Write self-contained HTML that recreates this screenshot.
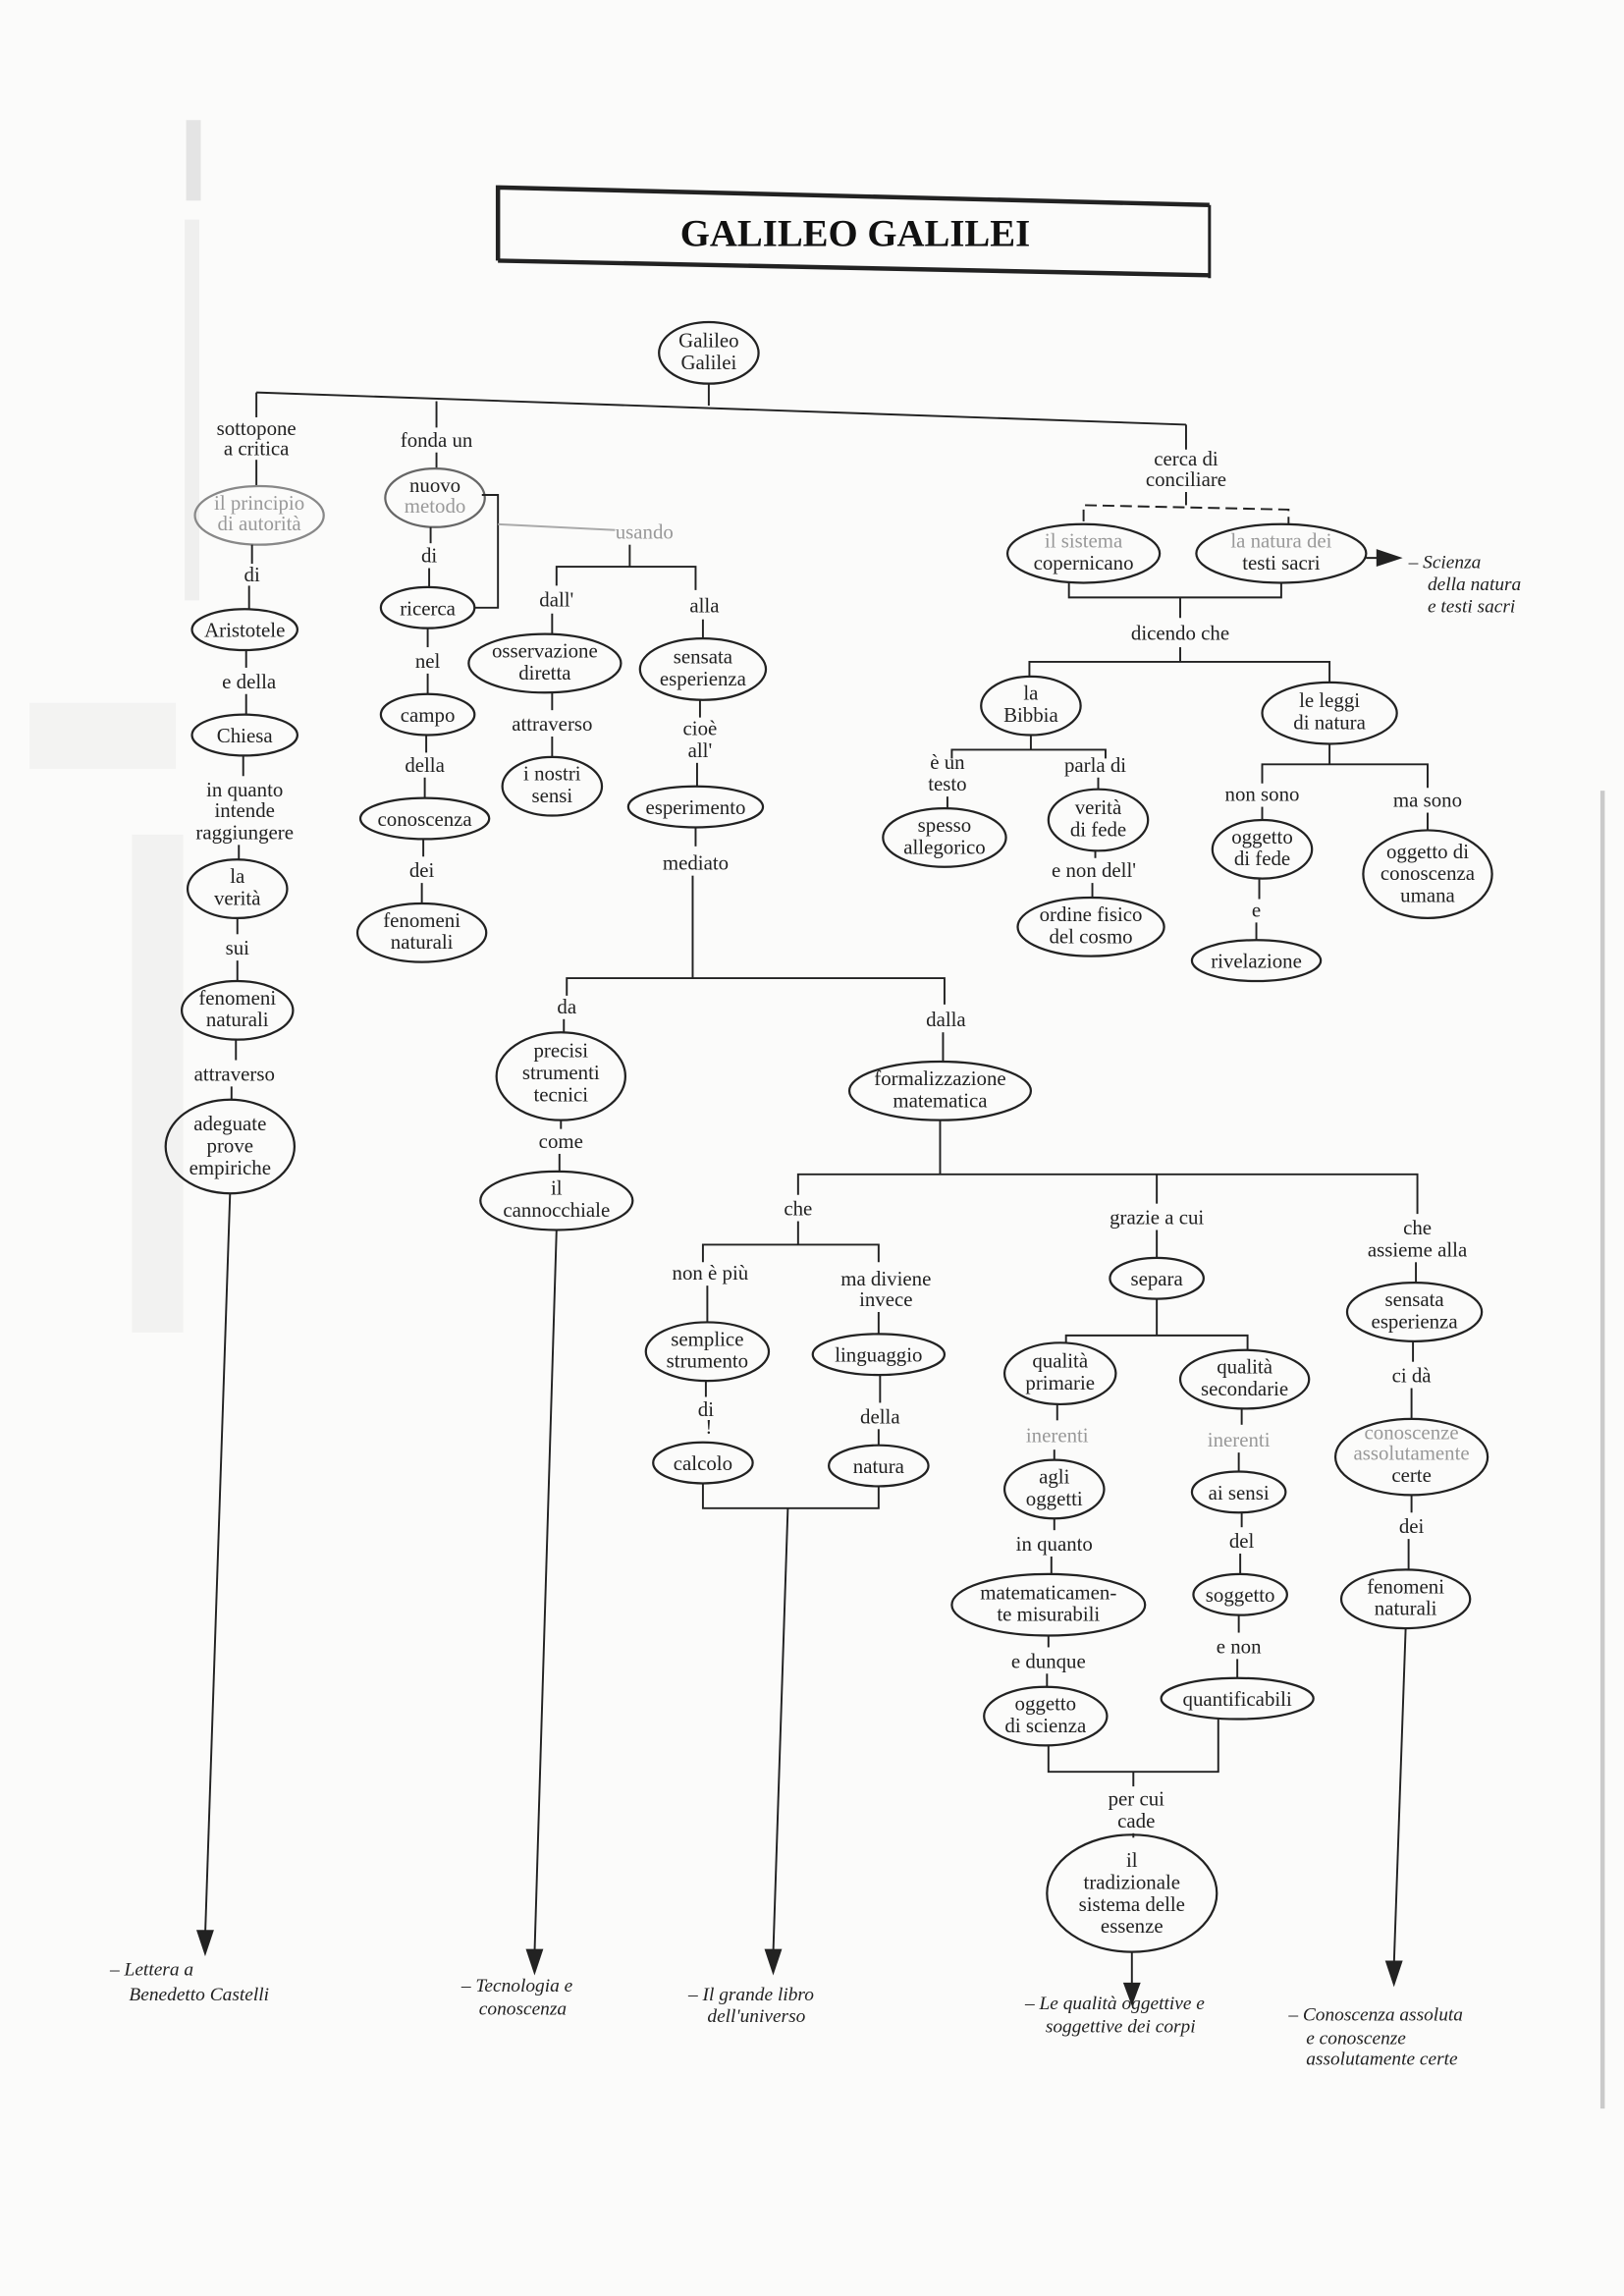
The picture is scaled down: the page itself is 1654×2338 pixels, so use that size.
<!DOCTYPE html>
<html><head><meta charset="utf-8"><style>
html,body{margin:0;padding:0;background:#fbfbfa;}
svg{display:block}
text{font-family:"Liberation Serif",serif;font-size:14px;fill:#222;text-anchor:middle}
.i{font-style:italic;text-anchor:start;font-size:13px}
.f{fill:#999}
ellipse{fill:none;stroke:#222;stroke-width:1.5}
line,polyline{stroke:#222;stroke-width:1.3;fill:none}
</style></head><body>
<svg width="1654" height="2338" viewBox="0 0 1109 1568" xmlns="http://www.w3.org/2000/svg">
<!-- scan noise -->
<rect x="127" y="82" width="10" height="55" fill="#bbb" opacity="0.35"/>
<rect x="126" y="150" width="10" height="260" fill="#ccc" opacity="0.25"/>
<rect x="20" y="480" width="100" height="45" fill="#ddd" opacity="0.25"/>
<rect x="90" y="570" width="35" height="340" fill="#ddd" opacity="0.3"/>
<rect x="1093" y="540" width="3" height="900" fill="#aaa" opacity="0.6"/>
<!-- title -->
<polyline points="340,178 340,128 826,140" style="stroke-width:3"/>
<line x1="340" y1="178" x2="826" y2="188" style="stroke-width:3"/>
<line x1="826" y1="140" x2="826" y2="190" style="stroke-width:2"/>
<text x="584" y="168" style="font-size:26px;font-weight:bold;fill:#111">GALILEO GALILEI</text>
<!-- root -->
<ellipse cx="484" cy="241" rx="34" ry="21"/>
<text x="484" y="237">Galileo</text><text x="484" y="252">Galilei</text>
<line x1="484" y1="262" x2="484" y2="277"/>
<line x1="175" y1="268" x2="810" y2="290"/>
<line x1="175" y1="268" x2="175" y2="285"/>
<line x1="298" y1="274" x2="298" y2="292"/>
<line x1="810" y1="290" x2="810" y2="307"/>
<!-- branch 1 -->
<text x="175" y="297">sottopone</text><text x="175" y="311">a critica</text>
<line x1="175" y1="314" x2="175" y2="332"/>
<ellipse cx="177" cy="352" rx="44" ry="20" style="stroke:#888"/>
<text x="177" y="348" class="f">il principio</text><text x="177" y="362" class="f">di autorità</text>
<line x1="172" y1="372" x2="172" y2="385"/>
<text x="172" y="397">di</text>
<line x1="170" y1="400" x2="170" y2="416"/>
<ellipse cx="167" cy="430" rx="36" ry="14"/><text x="167" y="435">Aristotele</text>
<line x1="168" y1="444" x2="168" y2="456"/>
<text x="170" y="470">e della</text>
<line x1="168" y1="474" x2="168" y2="488"/>
<ellipse cx="167" cy="502" rx="36" ry="14"/><text x="167" y="507">Chiesa</text>
<line x1="166" y1="516" x2="166" y2="530"/>
<text x="167" y="544">in quanto</text><text x="167" y="558">intende</text><text x="167" y="573">raggiungere</text>
<line x1="163" y1="577" x2="163" y2="587"/>
<ellipse cx="162" cy="607" rx="34" ry="20"/><text x="162" y="603">la</text><text x="162" y="618">verità</text>
<line x1="162" y1="627" x2="162" y2="638"/>
<text x="162" y="652">sui</text>
<line x1="162" y1="656" x2="162" y2="670"/>
<ellipse cx="162" cy="690" rx="38" ry="20"/><text x="162" y="686">fenomeni</text><text x="162" y="701">naturali</text>
<line x1="161" y1="710" x2="161" y2="724"/>
<text x="160" y="738">attraverso</text>
<line x1="158" y1="742" x2="158" y2="751"/>
<ellipse cx="157" cy="783" rx="44" ry="32"/><text x="157" y="772">adeguate</text><text x="157" y="787">prove</text><text x="157" y="802">empiriche</text>
<line x1="157" y1="815" x2="140" y2="1322"/>
<polygon points="134,1318 146,1318 140,1336" fill="#222"/>
<text x="75" y="1349" class="i">– Lettera a</text><text x="88" y="1366" class="i">Benedetto Castelli</text>
<!-- branch 2 -->
<text x="298" y="305">fonda un</text>
<line x1="298" y1="309" x2="298" y2="320"/>
<ellipse cx="297" cy="340" rx="34" ry="20" style="stroke:#666"/>
<text x="297" y="336">nuovo</text><text x="297" y="350" class="f">metodo</text>
<line x1="294" y1="360" x2="294" y2="371"/>
<text x="293" y="384">di</text>
<line x1="293" y1="388" x2="293" y2="401"/>
<ellipse cx="292" cy="415" rx="32" ry="14"/><text x="292" y="420">ricerca</text>
<polyline points="329,338 340,338 340,415 324,415"/>
<line x1="340" y1="358" x2="420" y2="362" style="stroke:#aaa"/>
<text x="440" y="368" class="f">usando</text>
<line x1="292" y1="429" x2="292" y2="442"/>
<text x="292" y="456">nel</text>
<line x1="292" y1="460" x2="292" y2="474"/>
<ellipse cx="292" cy="488" rx="32" ry="14"/><text x="292" y="493">campo</text>
<line x1="291" y1="502" x2="291" y2="514"/>
<text x="290" y="527">della</text>
<line x1="290" y1="531" x2="290" y2="545"/>
<ellipse cx="290" cy="559" rx="44" ry="14"/><text x="290" y="564">conoscenza</text>
<line x1="289" y1="573" x2="289" y2="585"/>
<text x="288" y="599">dei</text>
<line x1="288" y1="603" x2="288" y2="617"/>
<ellipse cx="288" cy="637" rx="44" ry="20"/><text x="288" y="633">fenomeni</text><text x="288" y="648">naturali</text>
<!-- usando subtree -->
<line x1="430" y1="372" x2="430" y2="387"/>
<polyline points="380,400 380,387 475,387 475,403"/>
<text x="380" y="414">dall'</text><text x="481" y="418">alla</text>
<line x1="377" y1="419" x2="377" y2="433"/>
<line x1="480" y1="423" x2="480" y2="436"/>
<ellipse cx="372" cy="453" rx="52" ry="20"/><text x="372" y="449">osservazione</text><text x="372" y="464">diretta</text>
<ellipse cx="480" cy="457" rx="43" ry="21"/><text x="480" y="453">sensata</text><text x="480" y="468">esperienza</text>
<line x1="377" y1="473" x2="377" y2="485"/>
<text x="377" y="499">attraverso</text>
<line x1="377" y1="503" x2="377" y2="517"/>
<ellipse cx="377" cy="537" rx="34" ry="20"/><text x="377" y="533">i nostri</text><text x="377" y="548">sensi</text>
<line x1="478" y1="478" x2="478" y2="490"/>
<text x="478" y="502">cioè</text><text x="478" y="517">all'</text>
<line x1="476" y1="521" x2="476" y2="537"/>
<ellipse cx="475" cy="551" rx="46" ry="14"/><text x="475" y="556">esperimento</text>
<line x1="475" y1="565" x2="475" y2="578"/>
<text x="475" y="594">mediato</text>
<line x1="473" y1="598" x2="473" y2="668"/>
<polyline points="387,680 387,668 645,668 645,686"/>
<text x="387" y="692">da</text>
<line x1="385" y1="696" x2="385" y2="705"/>
<ellipse cx="383" cy="735" rx="44" ry="30"/><text x="383" y="722">precisi</text><text x="383" y="737">strumenti</text><text x="383" y="752">tecnici</text>
<line x1="383" y1="765" x2="383" y2="771"/>
<text x="383" y="784">come</text>
<line x1="382" y1="788" x2="382" y2="800"/>
<ellipse cx="380" cy="820" rx="52" ry="20"/><text x="380" y="816">il</text><text x="380" y="831">cannocchiale</text>
<line x1="380" y1="840" x2="365" y2="1334"/>
<polygon points="359,1331 371,1331 365,1349" fill="#222"/>
<text x="315" y="1360" class="i">– Tecnologia e</text><text x="327" y="1376" class="i">conoscenza</text>
<!-- formalizzazione -->
<text x="646" y="701">dalla</text>
<line x1="644" y1="705" x2="644" y2="725"/>
<ellipse cx="642" cy="745" rx="62" ry="20"/><text x="642" y="741">formalizzazione</text><text x="642" y="756">matematica</text>
<line x1="642" y1="765" x2="642" y2="802"/>
<polyline points="545,816 545,802 968,802 968,829"/>
<line x1="790" y1="802" x2="790" y2="822"/>
<text x="545" y="830">che</text>
<line x1="545" y1="834" x2="545" y2="850"/>
<polyline points="480,862 480,850 600,850 600,862"/>
<text x="485" y="874">non è più</text>
<text x="605" y="878">ma diviene</text><text x="605" y="892">invece</text>
<line x1="483" y1="878" x2="483" y2="903"/>
<line x1="600" y1="896" x2="600" y2="911"/>
<ellipse cx="483" cy="923" rx="42" ry="20"/><text x="483" y="919">semplice</text><text x="483" y="934">strumento</text>
<ellipse cx="600" cy="925" rx="45" ry="14"/><text x="600" y="930">linguaggio</text>
<line x1="482" y1="943" x2="482" y2="954"/>
<text x="482" y="967">di</text><text x="484" y="979">!</text>
<ellipse cx="480" cy="999" rx="34" ry="14"/><text x="480" y="1004">calcolo</text>
<line x1="601" y1="939" x2="601" y2="958"/>
<text x="601" y="972">della</text>
<line x1="600" y1="976" x2="600" y2="987"/>
<ellipse cx="600" cy="1001" rx="34" ry="14"/><text x="600" y="1006">natura</text>
<polyline points="480,1013 480,1030 600,1030 600,1015"/>
<line x1="538" y1="1030" x2="528" y2="1334"/>
<polygon points="522,1331 534,1331 528,1349" fill="#222"/>
<text x="470" y="1366" class="i">– Il grande libro</text><text x="483" y="1381" class="i">dell'universo</text>
<!-- grazie a cui -->
<text x="790" y="836">grazie a cui</text>
<line x1="790" y1="840" x2="790" y2="859"/>
<ellipse cx="790" cy="873" rx="32" ry="14"/><text x="790" y="878">separa</text>
<line x1="790" y1="887" x2="790" y2="912"/>
<polyline points="728,917 728,912 852,912 852,922"/>
<ellipse cx="724" cy="938" rx="38" ry="21"/><text x="724" y="934">qualità</text><text x="724" y="949">primarie</text>
<ellipse cx="850" cy="942" rx="44" ry="20"/><text x="850" y="938">qualità</text><text x="850" y="953">secondarie</text>
<line x1="722" y1="959" x2="722" y2="970"/>
<text x="722" y="985" class="f">inerenti</text>
<line x1="848" y1="962" x2="848" y2="973"/>
<text x="846" y="988" class="f">inerenti</text>
<line x1="720" y1="990" x2="720" y2="997"/>
<ellipse cx="720" cy="1017" rx="34" ry="20"/><text x="720" y="1013">agli</text><text x="720" y="1028">oggetti</text>
<line x1="846" y1="992" x2="846" y2="1005"/>
<ellipse cx="846" cy="1019" rx="32" ry="14"/><text x="846" y="1024">ai sensi</text>
<line x1="720" y1="1037" x2="720" y2="1045"/>
<text x="720" y="1059">in quanto</text>
<line x1="718" y1="1063" x2="718" y2="1075"/>
<ellipse cx="716" cy="1096" rx="66" ry="21"/><text x="716" y="1092">matematicamen-</text><text x="716" y="1107">te misurabili</text>
<line x1="848" y1="1033" x2="848" y2="1043"/>
<text x="848" y="1057">del</text>
<line x1="847" y1="1061" x2="847" y2="1075"/>
<ellipse cx="847" cy="1089" rx="32" ry="14"/><text x="847" y="1094">soggetto</text>
<line x1="846" y1="1103" x2="846" y2="1115"/>
<text x="846" y="1129">e non</text>
<line x1="845" y1="1133" x2="845" y2="1146"/>
<ellipse cx="845" cy="1160" rx="52" ry="14"/><text x="845" y="1165">quantificabili</text>
<line x1="716" y1="1117" x2="716" y2="1125"/>
<text x="716" y="1139">e dunque</text>
<line x1="715" y1="1143" x2="715" y2="1152"/>
<ellipse cx="714" cy="1172" rx="42" ry="20"/><text x="714" y="1168">oggetto</text><text x="714" y="1183">di scienza</text>
<polyline points="716,1192 716,1210 832,1210 832,1174"/>
<line x1="774" y1="1210" x2="774" y2="1220"/>
<text x="776" y="1233">per cui</text><text x="776" y="1248">cade</text>
<line x1="774" y1="1252" x2="774" y2="1255"/>
<ellipse cx="773" cy="1293" rx="58" ry="40"/>
<text x="773" y="1275">il</text><text x="773" y="1290">tradizionale</text><text x="773" y="1305">sistema delle</text><text x="773" y="1320">essenze</text>
<line x1="773" y1="1333" x2="773" y2="1356"/>
<polygon points="767,1354 779,1354 773,1370" fill="#222"/>
<text x="700" y="1372" class="i">– Le qualità oggettive e</text><text x="714" y="1388" class="i">soggettive dei corpi</text>
<!-- che assieme -->
<text x="968" y="843">che</text><text x="968" y="858">assieme alla</text>
<line x1="967" y1="862" x2="967" y2="876"/>
<ellipse cx="966" cy="896" rx="46" ry="20"/><text x="966" y="892">sensata</text><text x="966" y="907">esperienza</text>
<line x1="965" y1="916" x2="965" y2="930"/>
<text x="964" y="944">ci dà</text>
<line x1="964" y1="948" x2="964" y2="969"/>
<ellipse cx="964" cy="995" rx="52" ry="26"/><text x="964" y="983" class="f">conoscenze</text><text x="964" y="997" class="f">assolutamente</text><text x="964" y="1012">certe</text>
<line x1="964" y1="1021" x2="964" y2="1033"/>
<text x="964" y="1047">dei</text>
<line x1="962" y1="1051" x2="962" y2="1072"/>
<ellipse cx="960" cy="1092" rx="44" ry="20"/><text x="960" y="1088">fenomeni</text><text x="960" y="1103">naturali</text>
<line x1="960" y1="1112" x2="952" y2="1342"/>
<polygon points="946,1339 958,1339 952,1357" fill="#222"/>
<text x="880" y="1380" class="i">– Conoscenza assoluta</text><text x="892" y="1396" class="i">e conoscenze</text><text x="892" y="1410" class="i">assolutamente certe</text>
<!-- right branch -->
<text x="810" y="318">cerca di</text><text x="810" y="332">conciliare</text>
<line x1="810" y1="336" x2="810" y2="345"/>
<polyline points="740,356 740,345 880,348 880,358" style="stroke-dasharray:8 4"/>
<ellipse cx="740" cy="378" rx="52" ry="20"/><text x="740" y="374" class="f">il sistema</text><text x="740" y="389">copernicano</text>
<ellipse cx="875" cy="378" rx="58" ry="20"/><text x="875" y="374" class="f">la natura dei</text><text x="875" y="389">testi sacri</text>
<line x1="933" y1="381" x2="944" y2="381"/>
<polygon points="940,375 958,381 940,387" fill="#222"/>
<text x="962" y="388" class="i">– Scienza</text><text x="975" y="403" class="i">della natura</text><text x="975" y="418" class="i">e testi sacri</text>
<polyline points="730,398 730,408 875,408 875,398"/>
<line x1="806" y1="408" x2="806" y2="422"/>
<text x="806" y="437">dicendo che</text>
<line x1="806" y1="442" x2="806" y2="452"/>
<polyline points="703,462 703,452 908,452 908,466"/>
<ellipse cx="704" cy="482" rx="34" ry="20"/><text x="704" y="478">la</text><text x="704" y="493">Bibbia</text>
<ellipse cx="908" cy="487" rx="46" ry="21"/><text x="908" y="483">le leggi</text><text x="908" y="498">di natura</text>
<line x1="704" y1="502" x2="704" y2="512"/>
<polyline points="650,518 650,512 755,512 755,518"/>
<text x="647" y="525">è un</text><text x="647" y="540">testo</text>
<text x="748" y="527">parla di</text>
<line x1="647" y1="544" x2="647" y2="552"/>
<line x1="750" y1="531" x2="750" y2="539"/>
<ellipse cx="645" cy="572" rx="42" ry="20"/><text x="645" y="568">spesso</text><text x="645" y="583">allegorico</text>
<ellipse cx="750" cy="560" rx="34" ry="21"/><text x="750" y="556">verità</text><text x="750" y="571">di fede</text>
<line x1="748" y1="581" x2="748" y2="586"/>
<text x="747" y="599">e non dell'</text>
<line x1="746" y1="603" x2="746" y2="613"/>
<ellipse cx="745" cy="633" rx="50" ry="20"/><text x="745" y="629">ordine fisico</text><text x="745" y="644">del cosmo</text>
<line x1="908" y1="508" x2="908" y2="522"/>
<polyline points="862,535 862,522 975,522 975,538"/>
<text x="862" y="547">non sono</text><text x="975" y="551">ma sono</text>
<line x1="862" y1="551" x2="862" y2="560"/>
<line x1="975" y1="555" x2="975" y2="567"/>
<ellipse cx="862" cy="580" rx="34" ry="20"/><text x="862" y="576">oggetto</text><text x="862" y="591">di fede</text>
<ellipse cx="975" cy="597" rx="44" ry="30"/><text x="975" y="586">oggetto di</text><text x="975" y="601">conoscenza</text><text x="975" y="616">umana</text>
<line x1="860" y1="600" x2="860" y2="614"/>
<text x="858" y="626">e</text>
<line x1="858" y1="630" x2="858" y2="642"/>
<ellipse cx="858" cy="656" rx="44" ry="14"/><text x="858" y="661">rivelazione</text>
</svg>
</body></html>
